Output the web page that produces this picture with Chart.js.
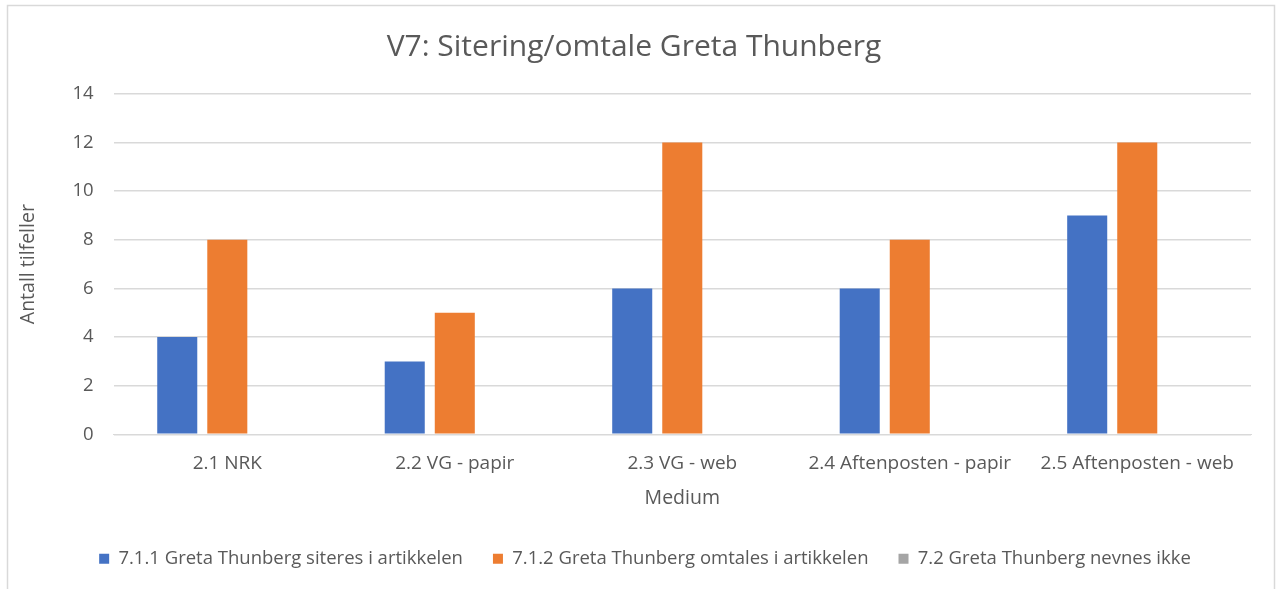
<!DOCTYPE html>
<html>
<head>
<meta charset="utf-8">
<script src="https://cdn.jsdelivr.net/npm/chart.js@4/dist/chart.umd.min.js"></script>
<style>
html,body{margin:0;padding:0;background:#fff;}
#wrap{position:relative;width:1280px;height:589px;}
</style>
</head>
<body>
<div id="wrap"><canvas id="c" width="1280" height="589"></canvas></div>
<script>
const categories = ["2.1 NRK", "2.2 VG - papir", "2.3 VG - web", "2.4 Aftenposten - papir", "2.5 Aftenposten - web"];
const seriesNames = ["7.1.1 Greta Thunberg siteres i artikkelen", "7.1.2 Greta Thunberg omtales i artikkelen", "7.2 Greta Thunberg nevnes ikke"];
const siteres = [4, 3, 6, 6, 9];
const omtales = [8, 5, 12, 8, 12];
const nevnesIkke = [0, 0, 0, 0, 0];
const yTicks = [0, 2, 4, 6, 8, 10, 12, 14];

const FONT = "'Open Sans', Lato, sans-serif";
const GREY = "#595959";

const framePlugin = {
  id: 'frame',
  beforeDraw(chart) {
    const ctx = chart.ctx;
    ctx.save();
    ctx.fillStyle = '#fff';
    ctx.fillRect(0, 0, chart.width, chart.height);
    ctx.strokeStyle = '#d9d9d9';
    ctx.lineWidth = 1.5;
    ctx.strokeRect(7.5, 5.5, 1267, 600);
    ctx.restore();
  },
  afterLayout(chart) {
    if (chart.legend) {
      chart.legend.left += 11;
      chart.legend.right += 11;
    }
  }
};

new Chart(document.getElementById('c'), {
  type: 'bar',
  data: {
    labels: categories,
    datasets: [
      { label: seriesNames[0], data: siteres, backgroundColor: '#4472c4' },
      { label: seriesNames[1], data: omtales, backgroundColor: '#ed7d31' },
      { label: seriesNames[2], data: nevnesIkke, backgroundColor: '#a5a5a5' }
    ]
  },
  plugins: [framePlugin],
  options: {
    responsive: false,
    animation: false,
    datasets: { bar: { categoryPercentage: 0.66, barPercentage: 0.8 } },
    layout: { padding: { left: 17, right: 29, top: 23, bottom: 11 } },
    plugins: {
      title: {
        display: true,
        text: 'V7: Sitering/omtale Greta Thunberg',
        color: GREY,
        font: { family: FONT, size: 30, weight: 'normal' },
        padding: { top: 6, bottom: 29 }
      },
      legend: {
        position: 'bottom',
        labels: {
          color: GREY,
          font: { family: FONT, size: 18.5 },
          boxWidth: 10,
          boxHeight: 10,
          padding: 30
        }
      },
      tooltip: { enabled: false }
    },
    scales: {
      x: {
        grid: { display: false },
        border: { display: true, color: '#d9d9d9' },
        ticks: { color: GREY, font: { family: FONT, size: 19 }, padding: 10, maxRotation: 0 },
        title: { display: true, text: 'Medium', color: GREY, font: { family: FONT, size: 19.5 }, padding: { top: 2, bottom: 9 } }
      },
      y: {
        min: 0, max: 14,
        afterBuildTicks(scale) { scale.ticks = yTicks.map(v => ({ value: v })); },
        grid: { color: '#d9d9d9', drawTicks: false, lineWidth: 1.5 },
        border: { display: false },
        ticks: { color: GREY, font: { family: FONT, size: 18.5 }, padding: 20 },
        title: { display: true, text: 'Antall tilfeller', color: GREY, font: { family: FONT, size: 19.5 }, padding: { top: 0, bottom: 12 } }
      }
    }
  }
});
</script>
</body>
</html>
